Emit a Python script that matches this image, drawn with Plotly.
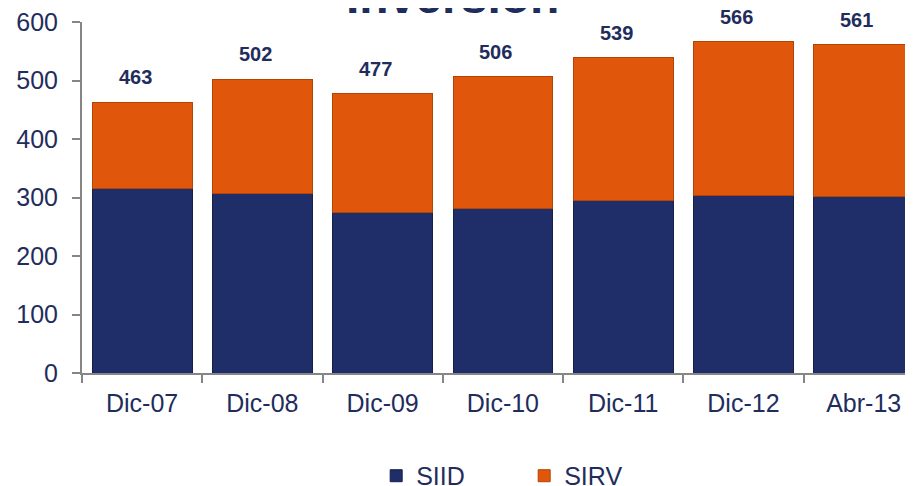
import plotly.graph_objects as go

categories = ["Dic-07", "Dic-08", "Dic-09", "Dic-10", "Dic-11", "Dic-12", "Abr-13"]
totals = [463, 502, 477, 506, 539, 566, 561]
siid = [316, 306, 275, 281, 295, 304, 301]
sirv = [t - s for t, s in zip(totals, siid)]
y_ticks = [0, 100, 200, 300, 400, 500, 600]

NAVY_TXT = "#1F2D5C"
BLUE = "#1F2E68"
ORANGE = "#E0560A"
AXIS = "#868686"

fig = go.Figure()
fig.add_trace(go.Bar(
    x=categories, y=siid, name="SIID",
    marker=dict(color=BLUE, line=dict(color="#16204a", width=1)),
    width=0.83,
))
fig.add_trace(go.Bar(
    x=categories, y=sirv, name="SIRV",
    marker=dict(color=ORANGE, line=dict(color="#b44404", width=1)),
    width=0.83,
))

for c, t in zip(categories, totals):
    fig.add_annotation(
        x=c, y=t, text=f"<b>{t}</b>", showarrow=False,
        yanchor="bottom", yshift=12, xshift=-7,
        font=dict(family="Liberation Sans, Arial", size=20, color=NAVY_TXT),
    )

fig.add_annotation(
    x=0.5, xref="paper", xshift=-45, y=1, yref="paper", yanchor="bottom", yshift=-3,
    text="<b>Inversión</b>", showarrow=False,
    font=dict(family="Liberation Sans, Arial", size=48, color=NAVY_TXT),
)

# page body has an 8px margin, so the figure is sized to fill the remaining window
fig.update_layout(
    width=905, height=478,
    margin=dict(l=74, r=0, t=14, b=113),
    barmode="stack", bargap=0.17,
    paper_bgcolor="white", plot_bgcolor="white",
    font=dict(family="Liberation Sans, Arial", size=25, color=NAVY_TXT),
    showlegend=True,
    legend=dict(
        orientation="h", x=0.354, xanchor="left", xref="paper",
        y=0.021, yanchor="middle", yref="container",
        font=dict(size=25, color=NAVY_TXT),
        itemwidth=30, entrywidth=103, entrywidthmode="pixels",
        bgcolor="rgba(0,0,0,0)", traceorder="normal",
    ),
    xaxis=dict(
        range=[-0.5, 6.41], showgrid=False, automargin=False,
        showline=True, linecolor=AXIS, linewidth=2,
        ticks="outside", tickson="boundaries", ticklen=8, tickcolor=AXIS, tickwidth=2,
        tickfont=dict(size=25, color=NAVY_TXT), ticklabelstandoff=7,
        ticklabeloverflow="allow",
    ),
    yaxis=dict(
        range=[0, 600], tickvals=y_ticks, showgrid=False, zeroline=False, automargin=False,
        showline=True, linecolor=AXIS, linewidth=2,
        ticks="outside", ticklen=8, tickcolor=AXIS, tickwidth=2,
        tickfont=dict(size=25, color=NAVY_TXT), ticklabelstandoff=9,
        ticklabeloverflow="allow",
    ),
)

fig.write_html("out.html")
